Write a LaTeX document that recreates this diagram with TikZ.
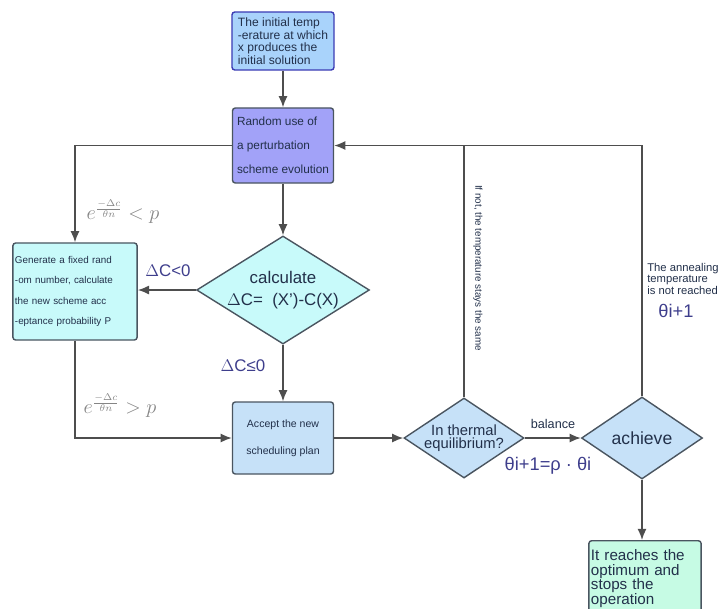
\documentclass[tikz,border=0pt]{standalone}
\usepackage{fontspec}
\setmainfont{Liberation Sans}
\usepackage{amsmath}
\usepackage{xcolor}
\usetikzlibrary{arrows.meta, shapes.geometric, positioning}
\definecolor{Ink}{HTML}{22304A}
\definecolor{Wire}{HTML}{4E4E4E}
\definecolor{StartFill}{HTML}{A9D3FB}
\definecolor{StartEdge}{HTML}{3C3CB4}
\definecolor{RandFill}{HTML}{A2A2F8}
\definecolor{CyanFill}{HTML}{C8FAFA}
\definecolor{SkyFill}{HTML}{C6E1F8}
\definecolor{MintFill}{HTML}{C6FBE4}
\definecolor{Edge}{HTML}{4A5560}
\definecolor{Cond}{HTML}{3E3E8C}
\definecolor{Expo}{HTML}{858585}
\tikzset{
  wire/.style={line width=1.1pt, color=Wire},
  flow/.style={-{Latex[length=8pt,width=6.5pt]}, line width=1.1pt, color=Wire},
  block/.style={draw=Edge, line width=1.0pt, rounded corners=2pt, text=Ink, inner sep=1.5pt},
  decide/.style={diamond, draw=Edge, line width=1.0pt, text=Ink, inner sep=0pt, align=center},
  cond/.style={text=Cond, font=\fontsize{12}{12}\selectfont},
  expo/.style={text=Expo, font=\Large},
  note/.style={text=Ink, inner sep=0pt},
}

\begin{document}
\begin{tikzpicture}[x=0.025cm, y=-0.025cm]
  \useasboundingbox (0,0) rectangle (722,608);

  % Boxes of the main column
  \node[block, fill=StartFill, draw=StartEdge, minimum width=2.55cm, minimum height=1.45cm,
        align=left, font=\fontsize{8.6}{8.9}\selectfont] (init) at (283,41)
    {The initial temp\\-erature at which\\x produces the\\initial solution};
  \node[block, fill=RandFill, minimum width=2.525cm, minimum height=1.875cm,
        align=left, font=\fontsize{8.4}{17}\selectfont] (rand) at (283,145.5)
    {Random use of\\a perturbation\\scheme evolution};
  \node[decide, fill=CyanFill, aspect=1.6, minimum width=4.2cm, minimum height=2.6cm,
        font=\fontsize{12}{16}\selectfont] (calc) at (283,290)
    {calculate\\$\Delta$C=\ \ (X’)-C(X)};
  \node[block, fill=CyanFill, minimum width=3.1cm, minimum height=2.425cm,
        text width=3.0cm, align=left, font=\fontsize{7}{14.5}\selectfont] (gen) at (75,291.5)
    {Generate a fixed rand\\-om number, calculate\\the new scheme acc\\-eptance probability P};
  \node[block, fill=SkyFill, minimum width=2.525cm, minimum height=1.8cm,
        align=center, font=\fontsize{7.5}{19}\selectfont] (accept) at (283,438)
    {Accept the new\\scheduling plan};

  % Decisions on the bottom row
  \node[decide, fill=SkyFill, minimum width=3.0cm, minimum height=2.0cm] (therm) at (464,438) {};
  \node[note, align=center, font=\fontsize{10.5}{9.5}\selectfont] (thermtext) at (therm)
    {In thermal\\equilibrium?};
  \node[decide, fill=SkyFill, minimum width=3.025cm, minimum height=2.05cm,
        font=\fontsize{12.5}{12.5}\selectfont] (achieve) at (642,438) {achieve};
  \node[block, fill=MintFill, minimum width=2.75cm, minimum height=1.9cm, anchor=north,
        text width=2.7cm, align=left,
        font={\fontsize{10.8}{10.4}\selectfont\lineskiplimit=-10pt}] (stop) at (645,540)
    {It reaches the\\optimum and\\stops the\\operation};

  % Connectors
  \draw[flow] (init) -- (rand);
  \draw[flow] (rand) -- (calc);
  \draw[flow] (calc) -- (accept);
  \draw[flow] (calc.west) -- (calc.west -| gen.east);
  \draw[flow] (rand.west) -| (gen.north);
  \draw[flow] (gen.south) |- (accept.west);
  \draw[flow] (accept) -- (therm);
  \draw[flow] (therm) -- (achieve);
  \draw[flow] (achieve.north) |- (rand.east);
  \draw[wire] (therm.north) -- (therm.north |- rand.east);
  \draw[flow] (achieve.south) -- (achieve.south |- stop.north);

  % Labels
  \node[cond] (lessneg) at (168,271) {$\Delta$C<0};
  \node[cond] (notpos) at (243,366) {$\Delta$C≤0};
  \node[expo] (acclow) at (123,212) {$e^{\frac{-\Delta c}{\theta n}}<p$};
  \node[expo] (acchigh) at (120,406) {$e^{\frac{-\Delta c}{\theta n}}>p$};
  \node[note, font=\fontsize{9}{9}\selectfont] (balance) at (553,424) {balance};
  \node[cond, font=\fontsize{13}{13}\selectfont] (cooling) at (548,466) {θi+1=ρ · θi};
  \node[note, rotate=-90, font=\fontsize{7}{7}\selectfont] (stays) at (478,268)
    {If not, the temperature stays the same};
  \node[note, anchor=north west, align=left, font=\fontsize{8}{6.5}\selectfont] (anneal) at (647,263)
    {The annealing\\temperature\\is not reached};
  \node[cond, font=\fontsize{13}{13}\selectfont] (nexttemp) at (676,311) {θi+1};
\end{tikzpicture}
\end{document}
